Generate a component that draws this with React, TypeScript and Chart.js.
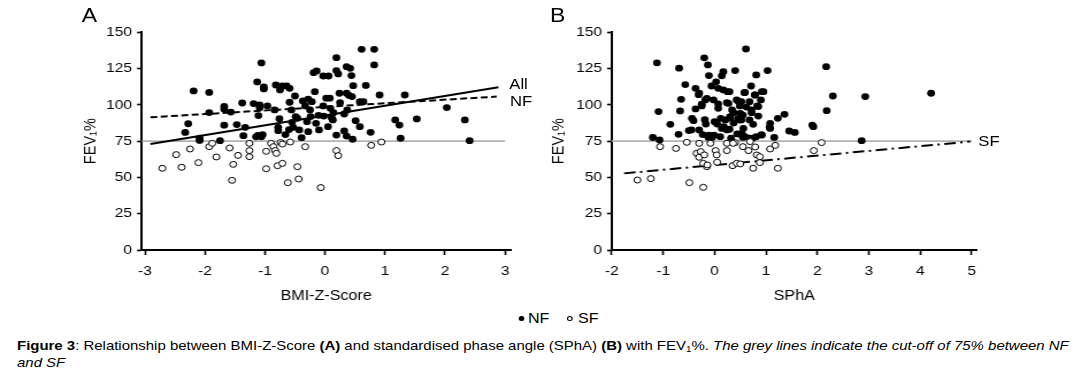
import React, { useEffect, useRef } from "react";
import { Chart, registerables } from "chart.js";

Chart.register(...registerables);

// ---------------- data ----------------
const yTickValues = [0, 25, 50, 75, 100, 125, 150];
const bmiTickValues = [-3, -2, -1, 0, 1, 2, 3];
const sphaTickValues = [-2, -1, 0, 1, 2, 3, 4, 5];
const cutoffValue = 75;
const bmiCutoffEnd = 3;
const sphaCutoffEnd = 5;

// Panel A: BMI-Z-Score vs FEV1% — normal function (filled)
const bmiNF: [number, number][] = [
  [-2.19, 109.6], [-1.93, 108.6], [-2.28, 87], [-2.33, 81], [-2.09, 77], [-2.09, 75.5], [-1.93, 94.7],
  [-1.75, 75.3], [-1.68, 99], [-1.68, 97], [-1.68, 86], [-1.57, 95], [-1.47, 86.4], [-1.38, 101.3],
  [-1.36, 78.8], [-1.33, 84.5], [-1.13, 115.8], [-1.06, 128.9], [-1.19, 100.9], [-1.09, 100], [-1.09, 98],
  [-1.02, 112.3], [-1.02, 111], [-1.11, 92.6], [-1.15, 78], [-1.12, 79], [-1.06, 78], [-1.04, 79.5],
  [-0.96, 99.3], [-0.84, 96.5], [-0.82, 113.7], [-0.75, 110.3], [-0.71, 113], [-0.64, 113], [-0.59, 111.4],
  [-0.76, 90.5], [-0.78, 84.5], [-0.78, 82.2], [-0.66, 79.5], [-0.59, 101.8], [-0.56, 96.5], [-0.53, 84.5],
  [-0.55, 88], [-0.6, 83], [-0.49, 91.9], [-0.46, 90.7], [-0.5, 106.1], [-0.43, 82.7], [-0.37, 102.7],
  [-0.39, 77.4], [-0.33, 99.3], [-0.3, 88.4], [-0.28, 103.9], [-0.25, 96.5], [-0.28, 81.5], [-0.24, 91.9],
  [-0.19, 122.2], [-0.14, 123.4], [-0.17, 109.1], [-0.22, 102.2], [-0.15, 87.3], [-0.11, 92.8], [-0.1, 82.7],
  [-0.03, 119.9], [-0.02, 92.3], [-0.03, 99.3], [0.02, 104.6], [0.05, 85], [0.06, 119.9], [0.08, 104.6],
  [0.09, 97.6], [0.11, 91.2], [0.14, 94.6], [0.13, 89.6], [0.19, 132.5], [0.19, 123.6], [0.22, 121.3],
  [0.24, 108], [0.19, 79.2], [0.25, 101.5], [0.32, 93.7], [0.32, 82], [0.36, 78.5], [0.36, 126.3],
  [0.42, 125.2], [0.44, 120.2], [0.36, 108], [0.4, 106.5], [0.37, 96.5], [0.45, 105.7], [0.47, 113.2],
  [0.46, 76.3], [0.51, 89.1], [0.58, 85], [0.58, 102.2], [0.61, 138.3], [0.64, 102.2], [0.68, 113.4],
  [0.76, 81.1], [0.82, 138.3], [0.82, 127.5], [0.91, 106.8], [1.17, 89.6], [1.24, 86.1], [1.26, 77],
  [1.33, 106.8], [1.53, 90.3], [2.03, 98.1], [2.33, 89.6], [2.41, 75.3],
];

// Panel A: severe dysfunction (open)
const bmiSF: [number, number][] = [
  [-2.71, 56.3], [-2.48, 65.7], [-2.39, 57], [-2.25, 69.6], [-2.11, 60.2], [-1.93, 71.2], [-1.88, 73.5],
  [-1.81, 64.1], [-1.59, 70.3], [-1.53, 59], [-1.55, 48], [-1.45, 65.2], [-1.26, 73.5], [-1.26, 68.5],
  [-1.26, 64.3], [-0.98, 68], [-0.98, 56], [-0.9, 73.5], [-0.86, 71.2], [-0.83, 68.5], [-0.81, 66.6],
  [-0.79, 58.1], [-0.74, 74], [-0.71, 59.7], [-0.71, 73], [-0.62, 46.4], [-0.58, 74.4], [-0.46, 57.4],
  [-0.44, 48.9], [-0.33, 71.2], [-0.07, 43], [0.19, 68.5], [0.22, 65], [0.77, 72.1], [0.94, 74.4],
];

// Panel B: standardised phase angle vs FEV1% — normal function (filled)
const sphaNF: [number, number][] = [
  [-1.12, 129], [-0.69, 125.3], [-1.09, 95.4], [-1.2, 77.5], [-1.07, 75.8], [-0.86, 86.6], [-0.65, 103.8],
  [-0.67, 95.8], [-0.7, 79.7], [-0.57, 114], [-0.37, 111.4], [-0.3, 108], [-0.31, 107], [-0.37, 97.2],
  [-0.44, 90.7], [-0.41, 89.1], [-0.45, 82.7], [-0.2, 132.4], [-0.13, 127.5], [-0.11, 120.2], [-0.25, 100.5],
  [-0.18, 103.4], [-0.19, 89.8], [-0.17, 86.8], [-0.23, 79.5], [-0.12, 77.6], [-0.01, 79.2], [-0.06, 113],
  [0.03, 115.9], [0.07, 111.4], [0.17, 122.9], [0.14, 120], [0.17, 110.3], [-0.02, 103.4], [0.07, 97.6],
  [0.12, 90.7], [0.14, 83.8], [0.25, 109.1], [0.29, 109.1], [0.27, 101], [0.3, 91.9], [0.29, 83.2],
  [0.32, 77], [0.37, 94.6], [0.4, 123.6], [0.43, 103.4], [0.48, 89.6], [0.53, 80.4], [0.55, 77.6],
  [0.56, 83.8], [0.58, 108.4], [0.61, 138.5], [0.62, 98.5], [0.68, 102.2], [0.71, 113], [0.72, 94.6],
  [0.75, 86.6], [0.79, 106.8], [0.81, 120.6], [0.83, 99.3], [0.85, 92.3], [0.9, 103.4], [0.92, 79.2],
  [0.95, 109.1], [0.81, 78.1], [0.68, 77], [1.03, 123.6], [1.08, 87.3], [1.08, 83.8], [1.16, 77.6],
  [1.23, 90.7], [1.36, 93.5], [1.45, 82], [1.56, 81], [1.9, 86.1], [1.92, 85], [2.17, 126.3], [2.18, 96],
  [2.3, 106.1], [2.93, 105.7], [2.86, 75.3], [4.21, 108],
  [-0.15, 104.5], [-0.25, 99.3], [0.07, 100.6], [0.24, 101.5], [0.34, 96.5], [0.47, 102.2], [-0.5, 82.3],
  [-0.3, 82.7], [0.0, 88.4], [0.05, 86.8], [-0.11, 79.2], [-0.05, 77.6], [0.21, 89.6], [0.18, 85],
  [0.24, 82.7], [0.31, 90.9], [0.37, 87.5], [0.44, 80], [0.5, 94.2], [0.52, 89.6], [0.11, 78.1],
  [0.92, 109.1], [0.52, 102.2], [0.49, 99.3], [0.55, 93], [0.46, 90.7], [0.68, 89.6], [1.07, 84.5],
  [0.59, 78.1], [0.75, 77.1], [0.91, 79.4], [0.85, 98.8], [0.78, 106.8], [0.59, 108.6], [0.72, 96.5],
];

// Panel B: severe dysfunction (open)
const sphaSF: [number, number][] = [
  [-1.5, 48.2], [-1.24, 49.2], [-1.06, 71.2], [-0.75, 70], [-0.54, 74.2], [-0.49, 46.4], [-0.3, 73.5],
  [-0.35, 66.6], [-0.27, 67.8], [-0.3, 63.9], [-0.2, 65.5], [-0.22, 59.7], [-0.15, 57.4], [-0.14, 58.6],
  [-0.22, 43.2], [0.02, 68.5], [0.04, 65.5], [0.24, 73.5], [0.24, 68.5], [0.35, 58.1], [0.4, 74],
  [0.43, 59.7], [0.5, 59.3], [0.55, 71.2], [0.66, 68.5], [0.69, 74.7], [0.75, 56.3], [0.82, 65.5],
  [0.88, 64.3], [0.88, 60.2], [1.08, 69.6], [1.18, 72.1], [1.23, 56.3], [1.93, 68.5], [2.08, 74],
  [-0.08, 73.5], [0.36, 73.5], [0.79, 71], [0.05, 60.5],
];

// Regression lines (end points)
const bmiAllFit: [number, number][] = [[-2.91, 73], [2.89, 112.1]];
const bmiNFFit: [number, number][] = [[-2.91, 91.4], [2.86, 105.7]];
const sphaSFFit: [number, number][] = [[-1.76, 52.8], [4.97, 74.7]];

// ---------------- layout ----------------
const K = 1.15; // horizontal stretch of the original figure
const DESIGN_W = 1082 / K;
const FONT = "'Liberation Sans', Arial, Helvetica, sans-serif";
const CANVAS_H = 310;
const TICK_FONT = 13.5;
const TITLE_FONT = 14;

type PanelSpec = {
  canvasLeft: number;
  canvasWidth: number;
  axisLeftRef: number;
  axisRightRef: number;
  yTitleCenterRef: number;
  xMin: number;
  xMax: number;
  xTicks: number[];
  xTitle: string;
  cutoffEnd: number;
  datasets: any[];
};

const pts = (arr: [number, number][]) => arr.map(([x, y]) => ({ x, y }));

function buildConfig(p: PanelSpec): any {
  const yW = p.axisLeftRef / K - p.canvasLeft;
  const right = p.axisRightRef / K - p.canvasLeft;
  const titleLH = (TITLE_FONT * 1.2) / 2;
  const yTitlePad = p.yTitleCenterRef / K - p.canvasLeft - titleLH;
  return {
    type: "scatter",
    data: {
      datasets: [
        ...p.datasets,
        {
          label: "cut-off",
          data: [
            { x: p.xMin, y: cutoffValue },
            { x: p.cutoffEnd, y: cutoffValue },
          ],
          showLine: true,
          borderColor: "#b3b3b3",
          borderWidth: 1.6,
          pointRadius: 0,
          order: 5,
        },
      ],
    },
    options: {
      animation: false,
      responsive: false,
      devicePixelRatio: 1,
      layout: { padding: { left: 0, top: 32.3, right: p.canvasWidth - right, bottom: 0 } },
      plugins: { legend: { display: false }, tooltip: { enabled: false } },
      scales: {
        x: {
          type: "linear",
          min: p.xMin,
          max: p.xMax,
          afterBuildTicks: (s: any) => {
            s.ticks = p.xTicks.map((v) => ({ value: v }));
          },
          afterFit: (s: any) => {
            s.height = CANVAS_H - 250;
          },
          grid: {
            display: true,
            drawOnChartArea: false,
            drawTicks: true,
            tickLength: 5,
            tickWidth: 1.6,
            tickColor: "#000",
          },
          border: { display: true, color: "#000", width: 2 },
          ticks: {
            color: "#000",
            font: { family: FONT, size: TICK_FONT },
            padding: 8.5,
            maxRotation: 0,
            autoSkip: false,
          },
          title: {
            display: true,
            text: p.xTitle,
            color: "#000",
            font: { family: FONT, size: TITLE_FONT },
            padding: { top: 0, bottom: 5.5 },
          },
        },
        y: {
          type: "linear",
          min: 0,
          max: 150,
          afterBuildTicks: (s: any) => {
            s.ticks = yTickValues.map((v) => ({ value: v }));
          },
          afterFit: (s: any) => {
            s.width = yW;
          },
          grid: {
            display: true,
            drawOnChartArea: false,
            drawTicks: true,
            tickLength: 4,
            tickWidth: 1.6,
            tickColor: "#000",
          },
          border: { display: true, color: "#000", width: 2 },
          ticks: {
            color: "#000",
            font: { family: FONT, size: TICK_FONT },
            padding: 4.5,
            autoSkip: false,
          },
          title: {
            display: true,
            text: "FEV\u2081%",
            color: "#000",
            font: { family: FONT, size: TITLE_FONT + 0.5 },
            padding: { top: yTitlePad, bottom: 0 },
          },
        },
      },
    },
  };
}

const filledStyle = {
  backgroundColor: "#000",
  borderColor: "#000",
  borderWidth: 0,
  pointRadius: 3.4,
  pointHoverRadius: 3.4,
  order: 1,
};
const openStyle = {
  backgroundColor: "#fff",
  borderColor: "#000",
  borderWidth: 1,
  pointRadius: 3,
  pointHoverRadius: 3,
  order: 0,
};
const fitStyle = {
  showLine: true,
  borderColor: "#000",
  borderWidth: 2,
  pointRadius: 0,
  order: 2,
};

const panelA: PanelSpec = {
  canvasLeft: 0,
  canvasWidth: 470,
  axisLeftRef: 141.7,
  axisRightRef: 510.7,
  yTitleCenterRef: 91,
  xMin: -3.055,
  xMax: 3.095,
  xTicks: bmiTickValues,
  xTitle: "BMI-Z-Score",
  cutoffEnd: bmiCutoffEnd,
  datasets: [
    { label: "SF", data: pts(bmiSF), ...openStyle },
    { label: "NF", data: pts(bmiNF), ...filledStyle },
    { label: "All fit", data: pts(bmiAllFit), ...fitStyle },
    { label: "NF fit", data: pts(bmiNFFit), ...fitStyle, borderDash: [6, 3] },
  ],
};

const panelB: PanelSpec = {
  canvasLeft: 470,
  canvasWidth: 471,
  axisLeftRef: 611.7,
  axisRightRef: 976.7,
  yTitleCenterRef: 559,
  xMin: -2,
  xMax: 5.097,
  xTicks: sphaTickValues,
  xTitle: "SPhA",
  cutoffEnd: sphaCutoffEnd,
  datasets: [
    { label: "SF", data: pts(sphaSF), ...openStyle },
    { label: "NF", data: pts(sphaNF), ...filledStyle },
    { label: "SF fit", data: pts(sphaSFFit), ...fitStyle, borderDash: [10, 4, 2, 4] },
  ],
};

function Panel({ spec }: { spec: PanelSpec }) {
  const ref = useRef<HTMLCanvasElement | null>(null);
  useEffect(() => {
    if (!ref.current) return;
    const chart = new Chart(ref.current, buildConfig(spec));
    return () => chart.destroy();
  }, [spec]);
  return (
    <canvas
      ref={ref}
      width={spec.canvasWidth}
      height={CANVAS_H}
      style={{
        position: "absolute",
        left: spec.canvasLeft,
        top: 0,
        width: spec.canvasWidth,
        height: CANVAS_H,
        display: "block",
      }}
    />
  );
}

// text placed by reference-pixel left edge and baseline
function Label({
  leftRef,
  baseline,
  size,
  children,
  style,
}: {
  leftRef: number;
  baseline: number;
  size: number;
  children: React.ReactNode;
  style?: React.CSSProperties;
}) {
  return (
    <div
      style={{
        position: "absolute",
        left: leftRef / K,
        top: baseline - 0.8465 * size,
        fontSize: size,
        lineHeight: `${size}px`,
        whiteSpace: "nowrap",
        color: "#000",
        ...style,
      }}
    >
      {children}
    </div>
  );
}

function Dot({ cxRef, cy, filled }: { cxRef: number; cy: number; filled: boolean }) {
  const d = 5;
  return (
    <div
      style={{
        position: "absolute",
        left: cxRef / K - d / 2,
        top: cy - d / 2,
        width: d,
        height: d,
        boxSizing: "border-box",
        borderRadius: "50%",
        background: filled ? "#000" : "#fff",
        border: "1px solid #000",
      }}
    />
  );
}

export default function App() {
  return (
    <div
      style={{
        position: "absolute",
        left: 0,
        top: 0,
        width: DESIGN_W,
        height: 378,
        transform: `scaleX(${K})`,
        transformOrigin: "0 0",
        fontFamily: FONT,
        background: "#fff",
        overflow: "hidden",
      }}
    >
      <Panel spec={panelA} />
      <Panel spec={panelB} />

      <Label leftRef={81.7} baseline={21.7} size={20}>A</Label>
      <Label leftRef={550} baseline={21.7} size={20}>B</Label>

      <Label leftRef={509.3} baseline={89.3} size={14.5}>All</Label>
      <Label leftRef={510} baseline={106.7} size={14.5}>NF</Label>
      <Label leftRef={978.3} baseline={146.7} size={14.5}>SF</Label>

      <Dot cxRef={521} cy={318} filled />
      <Label leftRef={528} baseline={323} size={14}>NF</Label>
      <Dot cxRef={570} cy={318} filled={false} />
      <Label leftRef={578} baseline={323} size={14}>SF</Label>

      <Label leftRef={17} baseline={350} size={13}>
        <b>Figure 3</b>: Relationship between BMI-Z-Score <b>(A)</b> and standardised phase angle (SPhA){" "}
        <b>(B)</b> with FEV
        <sub style={{ fontSize: 8.5, verticalAlign: -2, lineHeight: 0 }}>1</sub>%.{" "}
        <i>The grey lines indicate the cut-off of 75% between NF</i>
      </Label>
      <Label leftRef={17} baseline={367} size={13}>
        <i>and SF</i>
      </Label>
    </div>
  );
}
